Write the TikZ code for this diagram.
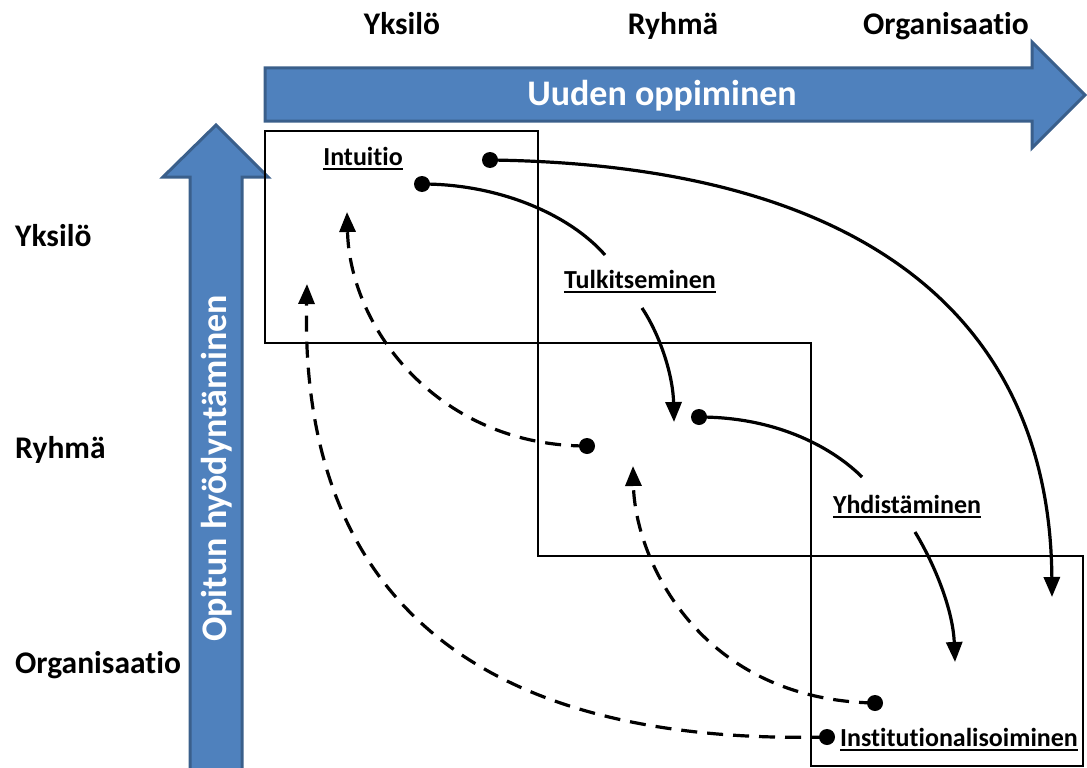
\documentclass[tikz,border=0pt]{standalone}
\usepackage{fontspec}
\setmainfont{Carlito}[Ligatures=NoCommon]
\usetikzlibrary{arrows.meta}
\definecolor{bandfill}{HTML}{4F81BD}
\definecolor{bandedge}{HTML}{3A5F8B}

\begin{document}
\begin{tikzpicture}[x=1pt,y=-1pt,
  axis/.style={font=\fontsize{31.5}{36}\selectfont\bfseries, inner sep=0pt},
  band/.style={fill=bandfill, draw=bandedge, line width=3pt, line join=miter},
  bandtext/.style={font=\fontsize{36}{40}\selectfont\bfseries, text=white, inner sep=0pt},
  stage/.style={font=\fontsize{26}{30}\selectfont\bfseries, inner sep=0pt},
  uline/.style={line width=2pt},
  frame/.style={draw, line width=2.4pt},
  plain/.style={line width=3.2pt},
  flow/.style={plain, -{Triangle[length=20pt,width=16pt]}},
  back/.style={flow, dash pattern=on 16pt off 10pt},
  dot/.style={circle, fill, inner sep=0pt, minimum size=16pt}
]
\useasboundingbox (0,0) rectangle (1087,768);

% horizontal band: learning new things
\draw[band] (265,68) -- (1032,68) -- (1032,42) -- (1085,95) -- (1032,148)
  -- (1032,121) -- (265,121) -- cycle;
\node[bandtext, anchor=base] (newl) at (662,105) {Uuden oppiminen};

% vertical band: exploiting what was learned
\draw[band] (190,790) -- (190,177) -- (163,177) -- (216,125) -- (268,177)
  -- (242,177) -- (242,790) -- cycle;
\node[bandtext, rotate=90, anchor=base west] (usel) at (226,642) {Opitun hyödyntäminen};

% level labels
\node[axis, anchor=base] (tInd) at (402,35) {Yksilö};
\node[axis, anchor=base] (tGrp) at (673,35) {Ryhmä};
\node[axis, anchor=base] (tOrg) at (946,35) {Organisaatio};
\node[axis, anchor=base west] (lInd) at (15,246) {Yksilö};
\node[axis, anchor=base west] (lGrp) at (15,458) {Ryhmä};
\node[axis, anchor=base west] (lOrg) at (15,673) {Organisaatio};

% staircase of level boxes
\draw[frame] (265,131) rectangle (538,343);
\draw[frame] (538,343) rectangle (811,556);
\draw[frame] (811,556) rectangle (1083,766);

% process stages
\node[stage, anchor=base] (intu) at (363,165) {Intuitio};
\node[stage, anchor=base] (tulk) at (640,288) {Tulkitseminen};
\node[stage, anchor=base] (yhd) at (907,513) {Yhdistäminen};
\node[stage, anchor=base west] (inst) at (840,746) {Institutionalisoiminen};
\foreach \n in {intu,tulk,yhd,inst}
  \draw[uline] ([yshift=-4pt]\n.base west) -- ([yshift=-4pt]\n.base east);

% start dots
\node[dot] (d1) at (490,160) {};
\node[dot] (d2) at (422,184) {};
\node[dot] (d3) at (699,417) {};
\node[dot] (d4) at (587,446) {};
\node[dot] (d5) at (875,703) {};
\node[dot] (d6) at (827,737) {};

% free ends of the connectors
\coordinate (t1) at (1052,597);
\coordinate (e2) at (605,255);
\coordinate (s2) at (642,308);
\coordinate (t2) at (674,422);
\coordinate (e3) at (862,477);
\coordinate (s3) at (915,532);
\coordinate (t3) at (955,662);
\coordinate (t4) at (347,212);
\coordinate (t5) at (633,466);
\coordinate (t6) at (307,284);

% feed-forward flows
\draw[flow] (d1.center) .. controls (880,165) and (1050,330) .. (t1);
\draw[plain] (d2.center) .. controls (500,184) and (570,215) .. (e2);
\draw[flow] (s2) .. controls (660,335) and (673,375) .. (t2);
\draw[plain] (d3.center) .. controls (780,417) and (835,450) .. (e3);
\draw[flow] (s3) .. controls (935,565) and (953,610) .. (t3);

% feedback flows
\draw[back] (d4.center) .. controls (440,446) and (350,330) .. (t4);
\draw[back] (d5.center) .. controls (700,700) and (635,560) .. (t5);
\draw[back] (d6.center) .. controls (480,745) and (300,600) .. (t6);
\end{tikzpicture}
\end{document}
